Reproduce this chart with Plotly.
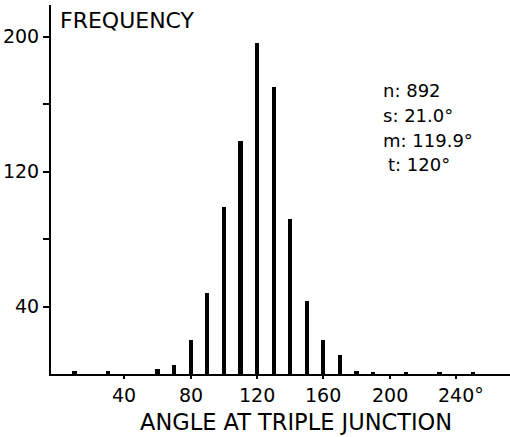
import plotly.graph_objects as go

angles = [10, 30, 60, 70, 80, 90, 100, 110, 120, 130, 140, 150, 160, 170, 180, 190, 210, 230, 250]
freqs = [2, 1.5, 3, 5.5, 20, 48, 99, 138, 196, 170, 92, 43, 20, 11, 2, 1, 1, 1, 1.2]

x_ticks = [40, 80, 120, 160, 200, 240]
x_ticktext = ["40", "80", "120", "160", "200", "240°"]
y_ticks = [40, 80, 120, 160, 200]
y_ticktext = ["40", "", "120", "", "200"]

stats_lines = ["n: 892", "s: 21.0°", "m: 119.9°", "t: 120°"]

FONT = "DejaVu Sans"

fig = go.Figure()
fig.add_trace(go.Bar(x=angles, y=freqs, width=2.5, hoverinfo="skip",
                     marker=dict(color="black", line=dict(width=0))))

fig.update_layout(
    width=510, height=437,
    margin=dict(l=51, r=0, t=5, b=63),
    paper_bgcolor="white", plot_bgcolor="white",
    showlegend=False, hovermode=False,
    font=dict(family=FONT, color="black", size=19),
    bargap=0,
)
fig.update_xaxes(
    range=[-4.2, 272.5], showgrid=False, zeroline=False, automargin=False,
    showline=True, linecolor="black", linewidth=2,
    tickvals=x_ticks, ticktext=[""] * len(x_ticks),
    ticks="outside", ticklen=3, tickwidth=1.5, tickcolor="black",
    tickfont=dict(size=19, family=FONT), showspikes=False,
)
fig.update_yaxes(
    range=[0, 218.7], showgrid=False, zeroline=False, automargin=False,
    showline=True, linecolor="black", linewidth=2,
    tickvals=y_ticks, ticktext=y_ticktext,
    ticks="outside", ticklen=6, tickwidth=1.5, tickcolor="black",
    tickfont=dict(size=19, family=FONT), showspikes=False,
)

# x tick labels drawn as annotations at the axis tick values
for v, lab in zip(x_ticks, x_ticktext):
    fig.add_annotation(x=v, y=(374 - 395) / 369, xref="x", yref="paper",
                       text=lab, showarrow=False, xanchor="center", yanchor="middle",
                       xshift=5 if lab.endswith("°") else 0,
                       font=dict(size=19, family=FONT))

fig.add_annotation(x=0, y=209.8, xref="x", yref="y", text="FREQUENCY",
                   showarrow=False, xanchor="left", yanchor="middle",
                   font=dict(size=22, family=FONT))

# stats block, one line per annotation (positions in screen-pixel terms)
line_px_y = [90, 115, 140, 164]
line_px_x = [381, 381, 381, 386]
for txt, py, px in zip(stats_lines, line_px_y, line_px_x):
    fig.add_annotation(x=(px - 58) / 1.659, y=(374 - py) / 1.6875, xref="x", yref="y",
                       text=txt, showarrow=False, xanchor="left", yanchor="middle",
                       font=dict(size=18, family=FONT))

fig.add_annotation(x=0.533, y=(374 - 422) / 369, xref="paper", yref="paper",
                   text="ANGLE AT TRIPLE JUNCTION", showarrow=False,
                   xanchor="center", yanchor="middle",
                   font=dict(size=22.5, family=FONT))

fig.write_html("out.html", config={"displayModeBar": False},
               post_script="document.body.style.margin='0';")
